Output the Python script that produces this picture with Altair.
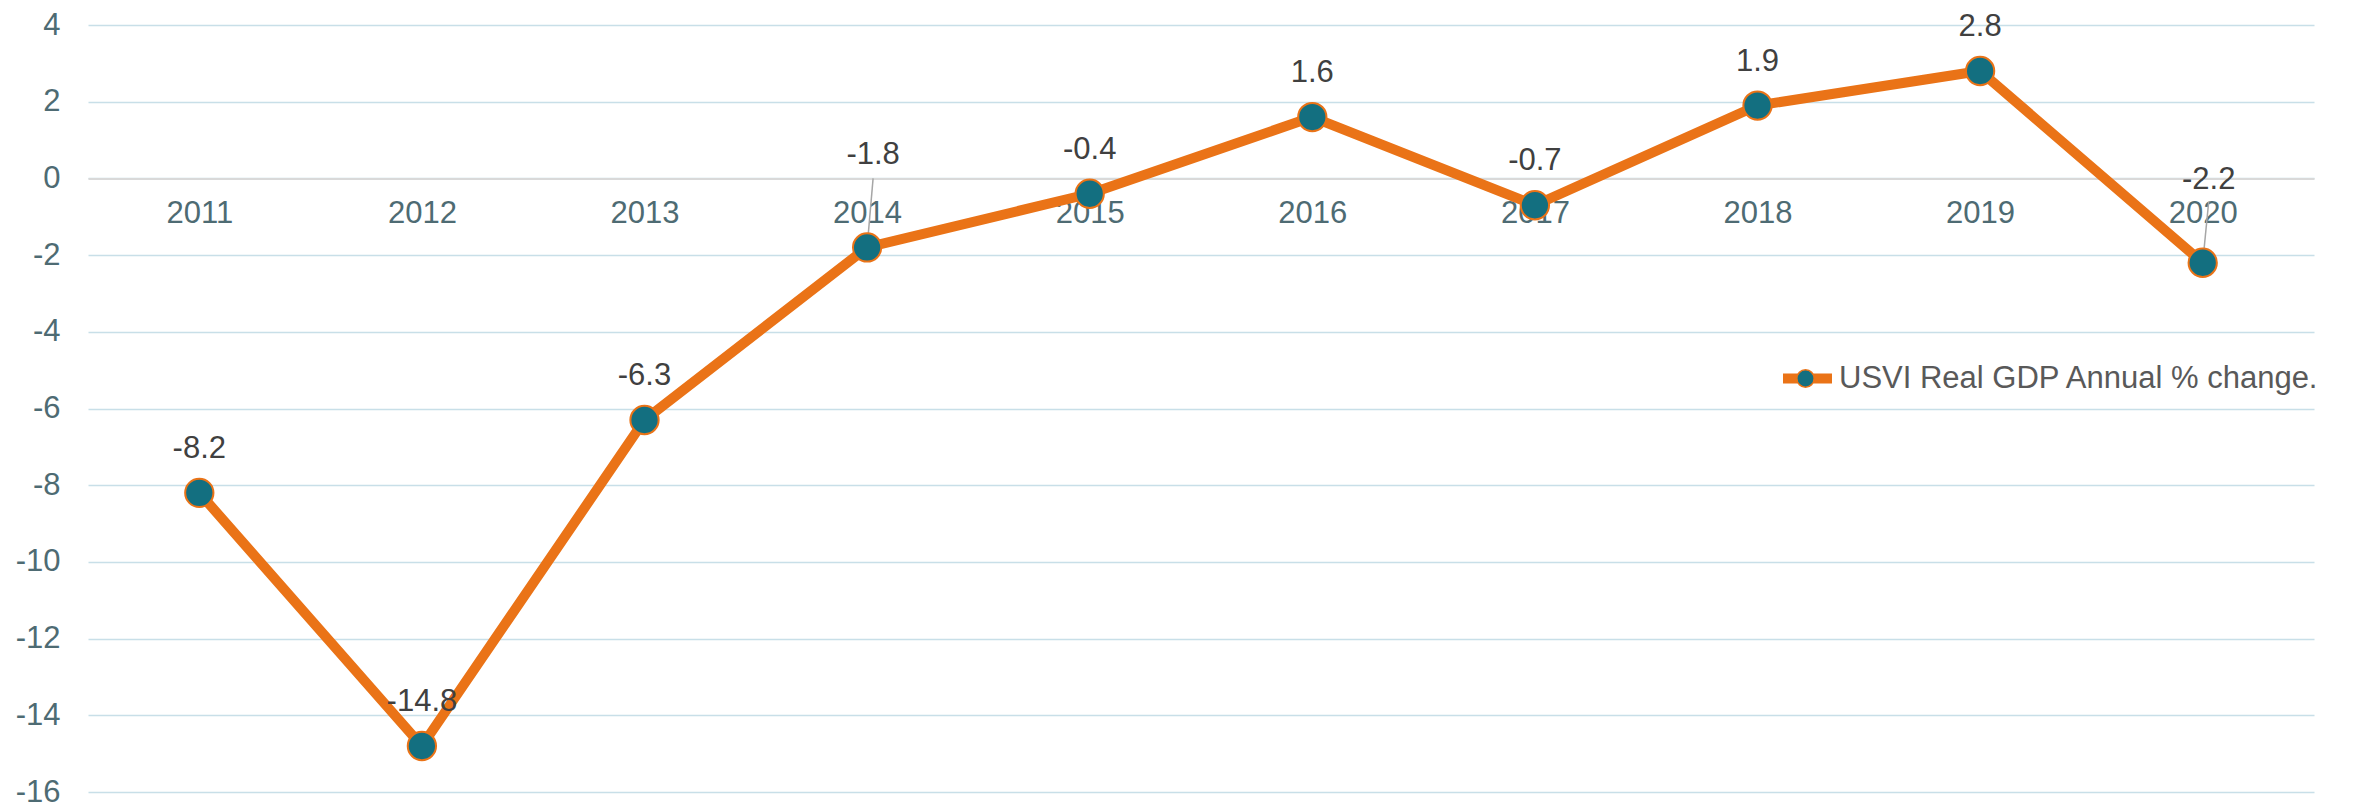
import altair as alt
import pandas as pd

years = ["2011", "2012", "2013", "2014", "2015", "2016", "2017", "2018", "2019", "2020"]
gdp_change = [-8.2, -14.8, -6.3, -1.8, -0.4, 1.6, -0.7, 1.9, 2.8, -2.2]
leader_years = ["2014", "2020"]
series_name = "USVI Real GDP Annual % change."
y_ticks = [-16, -14, -12, -10, -8, -6, -4, -2, 0, 2, 4]

df = pd.DataFrame({"year": years, "value": gdp_change})
df["series"] = series_name
df["series_pt"] = series_name
df["label"] = [f"{v:.1f}" for v in gdp_change]
df["leader"] = df["year"].isin(leader_years)

ORANGE = "#EA7317"
TEAL = "#136F80"
FONT = "Liberation Sans"

W, H = 2226, 767
y_zero_from_bottom = H * 16 / 20

# leader label styling: (label dy, rule length)
leader_style = {"2014": (-92, -69), "2020": (-83, -61)}

x_scale = alt.Scale(type="point", padding=0.5)

x_enc = alt.X(
    "year:O",
    sort=years,
    scale=x_scale,
    axis=alt.Axis(
        title=None,
        orient="bottom",
        offset=-y_zero_from_bottom,
        domainColor="#D9D9D9",
        domainWidth=2,
        ticks=False,
        labelAngle=0,
        labelFont=FONT,
        labelFontSize=31,
        labelColor="#4E6B73",
        labelPadding=20,
        grid=False,
    ),
)
y_enc = alt.Y(
    "value:Q",
    scale=alt.Scale(domain=[-16, 4], nice=False, zero=False),
    axis=alt.Axis(
        title=None,
        values=y_ticks,
        domain=False,
        ticks=False,
        labelFont=FONT,
        labelFontSize=31,
        labelColor="#4E6B73",
        labelPadding=28,
        labelExpr="replace(datum.label, '\u2212', '-')",
        gridColor="#C8DFE8",
        gridWidth=1.5,
    ),
)

base = alt.Chart(df)

line = base.mark_line(strokeWidth=10, strokeJoin="round").encode(
    x=x_enc,
    y=y_enc,
    stroke=alt.Stroke(
        "series:N",
        scale=alt.Scale(range=[ORANGE]),
        legend=alt.Legend(
            title=None,
            orient="none",
            legendX=1690,
            legendY=324,
            symbolType="stroke",
            symbolSize=2400,
            symbolStrokeWidth=10,
            labelFont=FONT,
            labelFontSize=31,
            labelColor="#595959",
            labelOffset=2,
            labelLimit=0,
        ),
    ),
)

points = base.mark_point(filled=True, size=800, stroke=ORANGE, strokeWidth=2, opacity=1).encode(
    x=alt.X("year:O", sort=years, scale=x_scale),
    y="value:Q",
    fill=alt.Fill(
        "series_pt:N",
        scale=alt.Scale(range=[TEAL]),
        legend=alt.Legend(
            title=None,
            orient="none",
            legendX=1708,
            legendY=344,
            symbolType="circle",
            symbolSize=300,
            symbolStrokeColor=ORANGE,
            symbolStrokeWidth=1.5,
            labelOpacity=0,
            labelFontSize=1,
        ),
    ),
)

labels = base.transform_filter(alt.datum.leader == False).mark_text(
    dy=-44, baseline="middle", align="center", font=FONT, fontSize=31, color="#404040"
).encode(x=alt.X("year:O", sort=years, scale=x_scale), y="value:Q", text="label:N")

leader_layers = []
for yr, (label_dy, rule_len) in leader_style.items():
    sub = base.transform_filter(alt.datum.year == yr)
    leader_layers.append(
        sub.mark_rule(color="#A6A6A6", strokeWidth=1.5, y2Offset=rule_len, x2Offset=6).encode(
            x=alt.X("year:O", sort=years, scale=x_scale),
            x2=alt.X2("year:O"),
            y="value:Q",
            y2="value:Q",
        )
    )
    leader_layers.append(
        sub.mark_text(
            dy=label_dy, dx=6, baseline="middle", align="center", font=FONT, fontSize=31, color="#404040"
        ).encode(x=alt.X("year:O", sort=years, scale=x_scale), y="value:Q", text="label:N")
    )

chart = (
    alt.layer(line, *leader_layers[0::2], points, labels, *leader_layers[1::2])
    .resolve_scale(fill="independent", stroke="independent")
    .properties(
        width=W,
        height=H,
        autosize=alt.AutoSizeParams(type="none"),
        padding={"left": 80, "top": 17, "right": 30, "bottom": 16},
        view=alt.ViewBackground(strokeWidth=0, stroke="transparent"),
    )
    .configure_view(strokeWidth=0, stroke="transparent")
    .configure(background="white")
)

chart.save("out.html", embed_options={"renderer": "svg", "actions": False})
